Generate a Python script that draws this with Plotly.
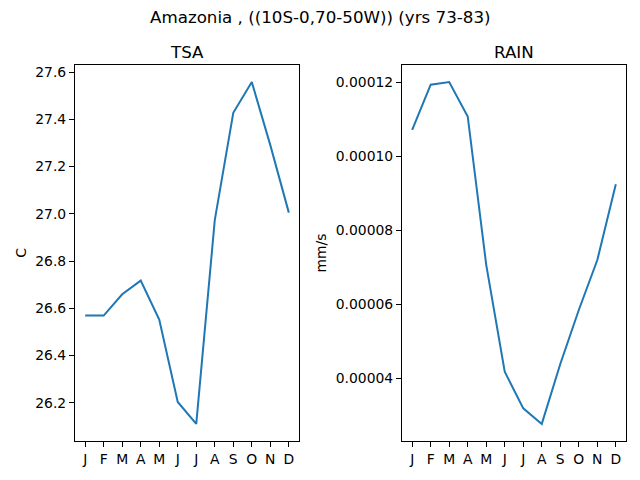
import plotly.graph_objects as go
from plotly.subplots import make_subplots

months = ["J", "F", "M", "A", "M", "J", "J", "A", "S", "O", "N", "D"]
tsa = [26.569, 26.569, 26.659, 26.717, 26.552, 26.203, 26.110, 26.973, 27.428, 27.558, 27.291, 27.005]
rain = [0.0001071, 0.0001193, 0.0001200, 0.0001107, 0.0000706, 0.0000417,
        0.0000318, 0.0000276, 0.0000438, 0.0000584, 0.0000719, 0.0000924]

W, H = 640, 480
font = "DejaVu Sans"
idx = list(range(len(months)))


def padded(vals, frac=0.05):
    lo, hi = min(vals), max(vals)
    pad = (hi - lo) * frac
    return [lo - pad, hi + pad]


fig = make_subplots(rows=1, cols=2)
fig.add_trace(go.Scatter(x=idx, y=tsa, mode="lines", line=dict(color="#1f77b4", width=2)), row=1, col=1)
fig.add_trace(go.Scatter(x=idx, y=rain, mode="lines", line=dict(color="#1f77b4", width=2)), row=1, col=2)

axis_common = dict(showline=True, linecolor="black", linewidth=1, mirror=True,
                   ticks="outside", ticklen=5, tickcolor="black", showgrid=False,
                   zeroline=False, tickfont=dict(family=font, size=13.9, color="black"))

fig.update_xaxes(axis_common)
fig.update_yaxes(axis_common)

fig.update_layout(
    width=W, height=H, showlegend=False,
    margin=dict(l=0, r=0, t=0, b=0),
    paper_bgcolor="white", plot_bgcolor="white",
    font=dict(family=font, color="black"),
    xaxis=dict(domain=[75 / W, 299 / W], range=padded(idx), tickvals=idx, ticktext=months),
    xaxis2=dict(domain=[402 / W, 626 / W], range=padded(idx), tickvals=idx, ticktext=months),
    yaxis=dict(domain=[1 - 441 / H, 1 - 65 / H], range=padded(tsa), dtick=0.2, tickformat=".1f",
               title=dict(text="C", font=dict(family=font, size=13.9), standoff=5)),
    yaxis2=dict(domain=[1 - 441 / H, 1 - 65 / H], range=padded(rain), dtick=0.00002, tickformat=".5f",
                title=dict(text="mm/s", font=dict(family=font, size=13.9), standoff=5)),
)

fig.add_annotation(text="Amazonia , ((10S-0,70-50W)) (yrs 73-83)", x=0.5, y=1 - 17 / H,
                   xref="paper", yref="paper", showarrow=False, xanchor="center", yanchor="middle",
                   font=dict(family=font, size=16.7, color="black"))
fig.add_annotation(text="TSA", x=187 / W, y=1 - 52 / H, xref="paper", yref="paper",
                   showarrow=False, xanchor="center", yanchor="middle",
                   font=dict(family=font, size=16.7, color="black"))
fig.add_annotation(text="RAIN", x=514 / W, y=1 - 52 / H, xref="paper", yref="paper",
                   showarrow=False, xanchor="center", yanchor="middle",
                   font=dict(family=font, size=16.7, color="black"))

# the page body has a default 8px margin; drop it so the figure sits at the corner
fig.write_html("out.html", config={"displayModeBar": False},
               post_script="document.body.style.margin='0px';")
